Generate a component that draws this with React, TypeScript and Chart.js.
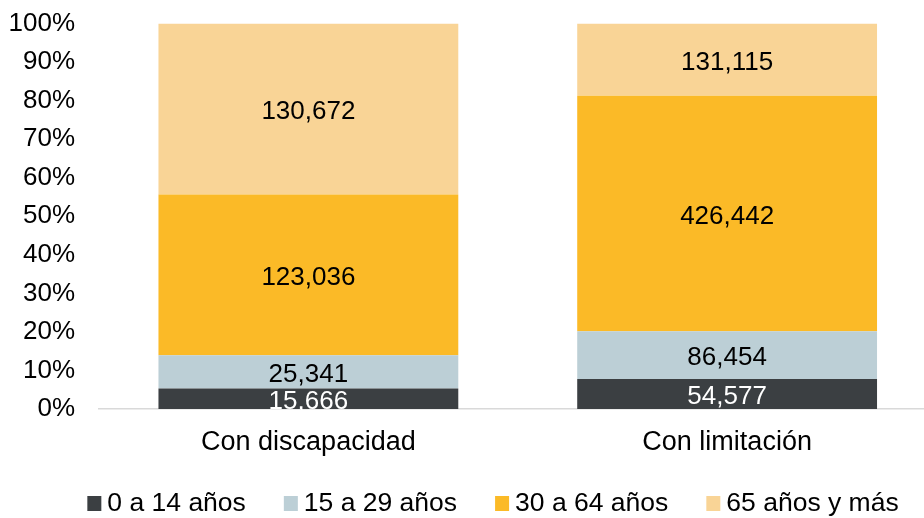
import React, { useEffect, useRef } from 'react';
import { Chart, registerables } from 'chart.js';

Chart.register(...registerables);

const categories = ['Con discapacidad', 'Con limitación'];
const seriesNames = ['0 a 14 años', '15 a 29 años', '30 a 64 años', '65 años y más'];
const age0to14 = [15666, 54577];
const age15to29 = [25341, 86454];
const age30to64 = [123036, 426442];
const age65plus = [130672, 131115];
const seriesColors = ['#3b3f42', '#bccfd6', '#fbba27', '#f9d496'];
const labelColors = ['#ffffff', '#000000', '#000000', '#000000'];
const yMin = 0;
const yMax = 100;
const yStep = 10;

const FONT = '"Liberation Sans", Arial, sans-serif';
const FONT_SIZE = 26;
const LEGEND_CX = 493;
const LEGEND_CY = 503;

const allSeries = [age0to14, age15to29, age30to64, age65plus];

const valueLabels = {
  id: 'valueLabels',
  afterDatasetsDraw(chart: any) {
    const ctx = chart.ctx;
    ctx.save();
    ctx.font = `${FONT_SIZE}px ${FONT}`;
    ctx.textAlign = 'center';
    ctx.textBaseline = 'middle';
    chart.data.datasets.forEach((_ds: any, k: number) => {
      const meta = chart.getDatasetMeta(k);
      meta.data.forEach((el: any, i: number) => {
        const v = allSeries[k][i];
        ctx.fillStyle = labelColors[k];
        ctx.fillText(v.toLocaleString('en-US'), el.x, (el.y + el.base) / 2 + 3);
      });
    });
    ctx.restore();
  },
};

const bottomLegend = {
  id: 'bottomLegend',
  afterDraw(chart: any) {
    const ctx = chart.ctx;
    ctx.save();
    ctx.font = `26.5px ${FONT}`;
    ctx.textAlign = 'left';
    ctx.textBaseline = 'middle';
    const box = 14;
    const gapText = 6;
    const gapItem = 38;
    const items = chart.data.datasets.map((ds: any) => ({
      label: ds.label,
      color: ds.backgroundColor,
      w: ctx.measureText(ds.label).width,
    }));
    const total =
      items.reduce((s: number, it: any) => s + box + gapText + it.w, 0) + gapItem * (items.length - 1);
    let x = LEGEND_CX - total / 2;
    for (const it of items) {
      ctx.fillStyle = it.color;
      ctx.fillRect(x, LEGEND_CY - 7, box, 15);
      ctx.fillStyle = '#000000';
      ctx.fillText(it.label, x + box + gapText, LEGEND_CY + 1);
      x += box + gapText + it.w + gapItem;
    }
    ctx.restore();
  },
};

export default function App() {
  const ref = useRef<HTMLCanvasElement>(null);
  useEffect(() => {
    const canvas = ref.current!;
    const totals = categories.map((_, i) => allSeries.reduce((s, a) => s + a[i], 0));
    const chart = new Chart(canvas, {
      type: 'bar',
      data: {
        labels: categories,
        datasets: allSeries.map((vals, k) => ({
          label: seriesNames[k],
          data: vals.map((v, i) => (v / totals[i]) * 100),
          backgroundColor: seriesColors[k],
          borderWidth: 0,
          categoryPercentage: 1,
          barPercentage: 0.716,
        })),
      },
      options: {
        responsive: false,
        animation: false,
        layout: { padding: { top: 23.5, right: 3.5, bottom: 56, left: 0 } },
        plugins: { legend: { display: false }, tooltip: { enabled: false } },
        scales: {
          x: {
            stacked: true,
            grid: { display: false, drawTicks: false },
            border: { display: true, color: '#d9d9d9', width: 1.5 },
            ticks: { color: '#000000', font: { family: FONT, size: 27 }, padding: 17, maxRotation: 0 },
            afterFit: (s: any) => {
              s.height = 53;
            },
          },
          y: {
            stacked: true,
            min: yMin,
            max: yMax,
            ticks: {
              stepSize: yStep,
              callback: (v: any) => v + '%',
              color: '#000000',
              font: { family: FONT, size: FONT_SIZE },
              padding: 24,
            },
            grid: { display: false, drawTicks: false },
            border: { display: false },
            afterFit: (s: any) => {
              s.width = 99;
              s.paddingTop = 0;
              s.paddingBottom = 0;
            },
          },
        },
      } as any,
      plugins: [valueLabels, bottomLegend],
    });
    return () => chart.destroy();
  }, []);
  return (
    <div
      style={{
        position: 'fixed',
        left: 0,
        top: 0,
        width: 924,
        height: 518,
        overflow: 'hidden',
        background: '#ffffff',
      }}
    >
      <canvas ref={ref} width={940} height={518} style={{ display: 'block' }} />
    </div>
  );
}
